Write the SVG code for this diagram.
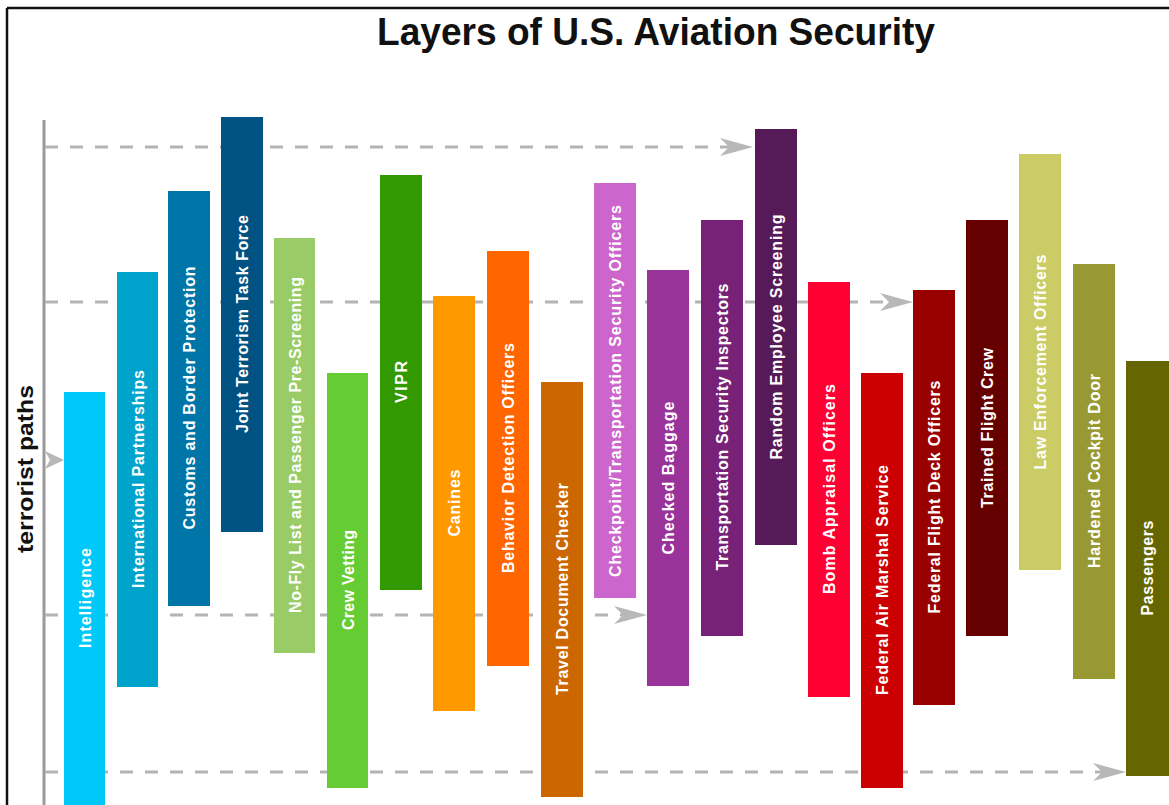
<svg xmlns="http://www.w3.org/2000/svg" width="1169" height="805" viewBox="0 0 1169 805">
<style>
.lbl{font-family:"Liberation Sans",Arial,sans-serif;font-weight:bold;font-size:16px;fill:#fff;text-anchor:middle;dominant-baseline:central}
.dash{stroke:#b4b4b4;stroke-width:3;stroke-dasharray:13 12;fill:none}
.ah{fill:#b8b8b8}
</style>
<defs>
<path id="arrow" d="M0,0 L-33,-9 L-24,0 L-33,9 Z"/>
</defs>
<rect width="1169" height="805" fill="#fff"/>
<g id="frame" stroke="#111" stroke-width="2.5" fill="none">
<line x1="7" y1="8" x2="1169" y2="8"/>
<line x1="7" y1="8" x2="7" y2="805"/>
</g>
<text id="title" x="656" y="45" font-family="Liberation Sans,Arial,sans-serif" font-weight="bold" font-size="38" text-anchor="middle" textLength="558" lengthAdjust="spacingAndGlyphs" fill="#111">Layers of U.S. Aviation Security</text>
<g id="axis">
<line x1="44" y1="120" x2="44" y2="805" stroke="#9a9a9a" stroke-width="3"/>
<path class="ah" d="M64,460 L45,451 L50,460 L45,469 Z"/>
<text transform="translate(33,469) rotate(-90)" font-family="Liberation Sans,Arial,sans-serif" font-weight="bold" font-size="22" text-anchor="middle" textLength="168" lengthAdjust="spacingAndGlyphs" fill="#111">terrorist paths</text>
</g>
<g id="connectors">
<line class="dash" x1="45" y1="147" x2="730" y2="147"/>
<use href="#arrow" class="ah" x="753" y="147"/>
<line class="dash" x1="45" y1="302" x2="890" y2="302"/>
<use href="#arrow" class="ah" x="913" y="302"/>
<line class="dash" x1="45" y1="615" x2="624" y2="615"/>
<use href="#arrow" class="ah" x="647" y="615"/>
<line class="dash" x1="45" y1="772" x2="1103" y2="772"/>
<use href="#arrow" class="ah" x="1126" y="772"/>
</g>
<g id="n1"><rect x="64" y="392" width="41" height="415" fill="#00C8F8"/><text class="lbl" transform="translate(85,598) rotate(-90)" textLength="100">Intelligence</text></g>
<g id="n2"><rect x="117" y="272" width="41" height="415" fill="#00A3CC"/><text class="lbl" transform="translate(138,479) rotate(-90)" textLength="218">International Partnerships</text></g>
<g id="n3"><rect x="168" y="191" width="42" height="415" fill="#0075A8"/><text class="lbl" transform="translate(189,398) rotate(-90)" textLength="263">Customs and Border Protection</text></g>
<g id="n4"><rect x="221" y="117" width="42" height="415" fill="#005282"/><text class="lbl" transform="translate(242,324) rotate(-90)" textLength="218">Joint Terrorism Task Force</text></g>
<g id="n5"><rect x="274" y="238" width="41" height="415" fill="#99CC66"/><text class="lbl" transform="translate(295,445) rotate(-90)" textLength="336">No-Fly List and Passenger Pre-Screening</text></g>
<g id="n6"><rect x="327" y="373" width="41" height="415" fill="#66CC33"/><text class="lbl" transform="translate(348,580) rotate(-90)" textLength="100">Crew Vetting</text></g>
<g id="n7"><rect x="380" y="175" width="42" height="415" fill="#339900"/><text class="lbl" transform="translate(401,382) rotate(-90)" textLength="42">VIPR</text></g>
<g id="n8"><rect x="433" y="296" width="42" height="415" fill="#FF9900"/><text class="lbl" transform="translate(454,503) rotate(-90)" textLength="67">Canines</text></g>
<g id="n9"><rect x="487" y="251" width="42" height="415" fill="#FF6600"/><text class="lbl" transform="translate(508,458) rotate(-90)" textLength="230">Behavior Detection Officers</text></g>
<g id="n10"><rect x="541" y="382" width="42" height="415" fill="#CC6600"/><text class="lbl" transform="translate(562,589) rotate(-90)" textLength="212">Travel Document Checker</text></g>
<g id="n11"><rect x="594" y="183" width="42" height="415" fill="#CC66CC"/><text class="lbl" transform="translate(615,391) rotate(-90)" textLength="372">Checkpoint/Transportation Security Officers</text></g>
<g id="n12"><rect x="647" y="270" width="42" height="416" fill="#993399"/><text class="lbl" transform="translate(668,478) rotate(-90)" textLength="153">Checked Baggage</text></g>
<g id="n13"><rect x="701" y="220" width="42" height="416" fill="#772277"/><text class="lbl" transform="translate(722,427) rotate(-90)" textLength="287">Transportation Security Inspectors</text></g>
<g id="n14"><rect x="755" y="129" width="42" height="416" fill="#551A57"/><text class="lbl" transform="translate(776,337) rotate(-90)" textLength="245">Random Employee Screening</text></g>
<g id="n15"><rect x="808" y="282" width="42" height="415" fill="#FF0033"/><text class="lbl" transform="translate(829,489) rotate(-90)" textLength="210">Bomb Appraisal Officers</text></g>
<g id="n16"><rect x="861" y="373" width="42" height="415" fill="#CC0000"/><text class="lbl" transform="translate(882,580) rotate(-90)" textLength="230">Federal Air Marshal Service</text></g>
<g id="n17"><rect x="913" y="290" width="42" height="415" fill="#990000"/><text class="lbl" transform="translate(934,497) rotate(-90)" textLength="233">Federal Flight Deck Officers</text></g>
<g id="n18"><rect x="966" y="220" width="42" height="416" fill="#660000"/><text class="lbl" transform="translate(987,428) rotate(-90)" textLength="160">Trained Flight Crew</text></g>
<g id="n19"><rect x="1019" y="154" width="42" height="416" fill="#CCCC66"/><text class="lbl" transform="translate(1040,362) rotate(-90)" textLength="215">Law Enforcement Officers</text></g>
<g id="n20"><rect x="1073" y="264" width="42" height="415" fill="#999933"/><text class="lbl" transform="translate(1094,471) rotate(-90)" textLength="194">Hardened Cockpit Door</text></g>
<g id="n21"><rect x="1126" y="361" width="43" height="415" fill="#666600"/><text class="lbl" transform="translate(1147,568) rotate(-90)" textLength="95">Passengers</text></g>
</svg>
